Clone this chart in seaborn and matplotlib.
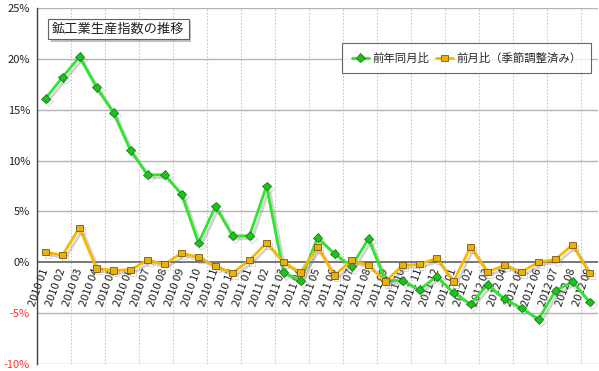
import matplotlib
matplotlib.use("Agg")
import matplotlib.pyplot as plt
import matplotlib.patheffects as pe
from matplotlib.ticker import FuncFormatter
import seaborn as sns
import pandas as pd
import numpy as np

months = ["2010 01", "2010 02", "2010 03", "2010 04", "2010 05", "2010 06",
          "2010 07", "2010 08", "2010 09", "2010 10", "2010 11", "2010 12",
          "2011 01", "2011 02", "2011 03", "2011 04", "2011 05", "2011 06",
          "2011 07", "2011 08", "2011 09", "2011 10", "2011 11", "2011 12",
          "2012 01", "2012 02", "2012 03", "2012 04", "2012 05", "2012 06",
          "2012 07", "2012 08", "2012 09"]
yoy = [16.1, 18.2, 20.2, 17.2, 14.7, 11.0, 8.6, 8.6, 6.7, 1.9, 5.5, 2.6,
       2.6, 7.5, -1.0, -1.8, 2.4, 0.85, -0.4, 2.3, -1.8, -1.8, -2.7, -1.4,
       -3.0, -4.1, -2.2, -3.6, -4.5, -5.6, -2.8, -1.9, -3.9]
mom = [1.0, 0.7, 3.4, -0.6, -0.8, -0.75, 0.2, -0.2, 0.9, 0.5, -0.4, -1.05,
       0.2, 1.9, 0.0, -1.0, 1.5, -1.3, 0.2, -0.3, -1.9, -0.3, -0.2, 0.4,
       -1.9, 1.5, -0.95, -0.3, -0.95, 0.0, 0.3, 1.7, -1.05]
series_names = ["前年同月比", "前月比（季節調整済み）"]
yticks = [-10, -5, 0, 5, 10, 15, 20, 25]

sns.set_style("white")
plt.rcParams['font.family'] = ['Noto Sans CJK JP', 'DejaVu Sans']

df = pd.DataFrame({"idx": np.arange(len(months)), "yoy": yoy, "mom": mom})

fig = plt.figure(figsize=(5.99, 3.71), dpi=100)
ax = fig.add_axes([37/599, 1-364/371, 561/599, 356/371])

shadow = [pe.SimpleLineShadow(offset=(2, -2), shadow_color="0.5", alpha=0.35), pe.Normal()]

sns.lineplot(data=df, x="idx", y="yoy", ax=ax, color="#2ee62e", lw=2,
             marker="D", markersize=4.5, markerfacecolor="#20c020",
             markeredgecolor="#108010", markeredgewidth=0.6,
             label=series_names[0], path_effects=shadow, zorder=4)
sns.lineplot(data=df, x="idx", y="mom", ax=ax, color="#f9b800", lw=2,
             marker="s", markersize=4.5, markerfacecolor="#e8b010",
             markeredgecolor="#7a5a00", markeredgewidth=0.6,
             label=series_names[1], path_effects=shadow, zorder=5)

ax.spines["bottom"].set_position(("data", 0))
ax.spines["bottom"].set_visible(False)
ax.spines["top"].set_visible(False)
ax.spines["right"].set_visible(False)
ax.spines["left"].set_color("#404040")
ax.spines["left"].set_linewidth(1.0)

ax.set_xlim(-0.5, len(months) - 0.5)
ax.set_ylim(-10, 25)

# grid lines
for y in yticks:
    ax.axhline(y, color="#606060" if y == 0 else "#b4b4b4",
               lw=1.2 if y == 0 else 1.0, zorder=1)
for xb in np.arange(1.5, len(months) - 0.5, 2):
    ax.axvline(xb, color="#c8c8c8", lw=0.8, ls=(0, (1.5, 1.5)), zorder=0)

ax.set_yticks(yticks)
ax.yaxis.set_major_formatter(FuncFormatter(lambda v, p: f"{int(v)}%"))
ax.tick_params(axis="y", labelsize=8, length=3, direction="out", color="#404040", pad=2)
for lbl, v in zip(ax.get_yticklabels(), yticks):
    lbl.set_color("#ff3030" if v < 0 else "#202020")

ax.set_xticks(np.arange(len(months)))
ax.set_xticklabels(months, rotation=70, ha="right", va="center",
                   rotation_mode="anchor", fontsize=8, color="#202020")
ax.tick_params(axis="x", length=0, pad=5)
ax.set_xlabel("")
ax.set_ylabel("")

# title box
t = ax.text(0.145, 0.941, "鉱工業生産指数の推移", transform=ax.transAxes,
            ha="center", va="center", fontsize=9.5, color="#202020", zorder=10,
            bbox=dict(boxstyle="square,pad=0.3", fc="white", ec="#606060", lw=0.8))
t.get_bbox_patch().set_path_effects(
    [pe.SimplePatchShadow(offset=(2, -2), shadow_rgbFace="0.5", alpha=0.5), pe.Normal()])

leg = ax.legend(loc="upper right", bbox_to_anchor=(1.0, 0.921), ncol=2,
                fontsize=8.2, frameon=True, fancybox=False, borderpad=0.85,
                handlelength=1.5, handletextpad=0.3, columnspacing=0.6,
                borderaxespad=0.6)
leg.get_frame().set_edgecolor("#404040")
leg.get_frame().set_linewidth(0.8)
for h in leg.get_lines():
    h.set_path_effects([pe.Normal()])

fig.savefig("out.png", dpi=100)
